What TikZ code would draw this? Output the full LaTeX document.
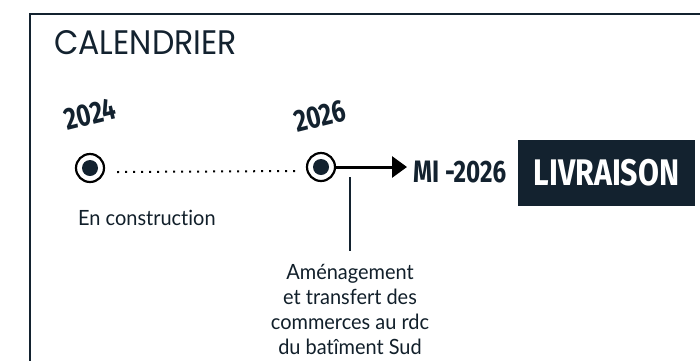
\documentclass[tikz,border=0pt]{standalone}
\usepackage{fontspec}
\setmainfont[FakeStretch=0.95,Ligatures=CommonOff]{Lato}
\newfontfamily\titlefont[FakeStretch=0.93]{Poppins}
\newfontfamily\condfont[FakeStretch=0.78]{Fira Sans}
\newfontfamily\boxfont[FakeStretch=0.82]{Fira Sans}
\usepackage{tikz}
\usetikzlibrary{arrows.meta,positioning}
\definecolor{navy}{HTML}{13222F}

\begin{document}
\begin{tikzpicture}[x=1pt,y=-1pt]
\tikzstyle{milestone}=[draw=black, shape=circle, line width=2.2pt, minimum size=28pt, inner sep=0pt,
  path picture={\fill[navy] (path picture bounding box.center) circle (8pt);}]
\tikzstyle{year}=[text=navy, inner sep=0pt, rotate=14, font=\condfont\bfseries\fontsize{31}{31}\selectfont]
\tikzstyle{note}=[text=navy!90!black, inner sep=0pt, font=\fontsize{21}{25}\selectfont]
\tikzstyle{dots}=[line width=2pt, dash pattern=on 2pt off 6pt]
\tikzstyle{arrow}=[line width=3pt, -{Triangle[length=15pt,width=21pt]}]
\useasboundingbox (0,0) rectangle (700,360);
% frame
\draw[navy, line width=2pt] (30,380) -- (30,14) -- (720,14);
\node[anchor=base west, inner sep=0pt, text=navy, font=\titlefont\fontsize{34}{34}\selectfont] (title) at (54,54) {CALENDRIER};

\node[milestone] (c1) at (90,168) {};
\node[milestone] (c2) at (321,167) {};
\node[year] (y1) at (90,114) {2024};
\node[year] (y2) at (320,116) {2026};
\node[anchor=base west, inner sep=0pt, text=navy, font=\condfont\bfseries\fontsize{31}{31}\selectfont] (mi) at (413,182) {MI -2026};
\node[fill=navy, text=white, minimum width=177pt, minimum height=66pt, inner sep=0pt,
  font=\boxfont\bfseries\fontsize{37}{37}\selectfont] (livraison) at (606.5,173) {LIVRAISON};

\node[note, anchor=base west] (build) at (78,225) {En construction};
\node[note, anchor=north, align=center] (amen) at (350,264) {Aménagement\\et transfert des\\commerces au rdc\\du batîment Sud};
\coordinate (tickA) at (350,177);

\draw[dots] ([xshift=12pt,yshift=-4pt]c1.east) -- ([xshift=-8pt,yshift=-4pt]c2.west);
\draw[arrow] (c2.east) -- ([xshift=-6pt]c2.east -| mi.west);
\draw[navy, line width=1.5pt] (tickA) -- ([yshift=13pt]amen.north);

\end{tikzpicture}
\end{document}
